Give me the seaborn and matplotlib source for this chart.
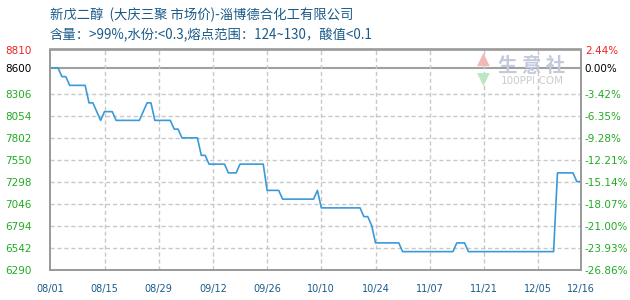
import matplotlib
matplotlib.use("Agg")
import matplotlib.pyplot as plt
import seaborn as sns
import pandas as pd
import numpy as np

# ---------------- data ----------------
start_date = "2023-08-01"
day_offsets = [0, 2, 3, 4, 5, 9, 10, 11, 13, 14, 16, 17, 23, 25, 26, 27,
               31, 32, 33, 34, 38, 39, 40, 41, 45, 46, 48, 49, 55, 56, 59, 60,
               68, 69, 70, 80, 81, 82, 83, 84, 90, 91, 104, 105, 107, 108,
               130, 131, 135, 136, 137]
prices = [8600, 8600, 8500, 8500, 8400, 8400, 8200, 8200, 8000, 8100, 8100, 8000, 8000, 8200, 8200, 8000,
          8000, 7900, 7900, 7800, 7800, 7600, 7600, 7500, 7500, 7400, 7400, 7500, 7500, 7200, 7200, 7100,
          7100, 7200, 7000, 7000, 6900, 6900, 6800, 6600, 6600, 6500, 6500, 6600, 6600, 6500,
          6500, 7400, 7400, 7300, 7300]

base_price = 8600
left_ticks = [8810, 8600, 8306, 8054, 7802, 7550, 7298, 7046, 6794, 6542, 6290]
right_tick_labels = ["2.44%", "0.00%", "-3.42%", "-6.35%", "-9.28%", "-12.21%",
                     "-15.14%", "-18.07%", "-21.00%", "-23.93%", "-26.86%"]
x_tick_offsets = [0, 14, 28, 42, 56, 70, 84, 98, 112, 126, 137]
x_tick_labels = ["08/01", "08/15", "08/29", "09/12", "09/26", "10/10",
                 "10/24", "11/07", "11/21", "12/05", "12/16"]

title_line1 = "新戊二醇  (大庆三聚 市场价)-淄博德合化工有限公司"
title_line2 = "含量：>99%,水份:<0.3,熔点范围：124~130，酸值<0.1"

# ---------------- build ----------------
t0 = pd.Timestamp(start_date)
df = pd.DataFrame({"date": [t0 + pd.Timedelta(days=d) for d in day_offsets],
                   "price": prices})
xticks = [t0 + pd.Timedelta(days=d) for d in x_tick_offsets]

sns.set_theme(style="white")
plt.rcParams['font.family'] = ['DejaVu Sans', 'Noto Sans CJK SC']

fig = plt.figure(figsize=(6.3, 3.0), dpi=100)
ax = fig.add_axes([50.3 / 630, 1 - 270 / 300, (580.7 - 50.3) / 630, (270 - 49.5) / 300])

grid_col = "#c8c8c8"
spine_col = "#999999"

# grid
for v in left_ticks:
    if v == base_price:
        ax.axhline(v, color="#a0a0a0", lw=1.5, zorder=1)
    elif v != left_ticks[0] and v != left_ticks[-1]:
        ax.axhline(v, color=grid_col, lw=1, ls=(0, (3, 2)), zorder=1)
for t in xticks[1:-1]:
    ax.axvline(t, color=grid_col, lw=1, ls=(0, (3, 2)), zorder=1)

sns.lineplot(data=df, x="date", y="price", ax=ax, color="#3a9ad9", lw=1.2, zorder=3)

ax.set_xlim(xticks[0], xticks[-1])
ax.set_ylim(left_ticks[-1], left_ticks[0])
ax.set_xlabel("")
ax.set_ylabel("")

ax.set_xticks(xticks)
ax.set_xticklabels(x_tick_labels, fontsize=7, color="#1a5a8a")
ax.set_yticks(left_ticks)
ax.set_yticklabels([str(v) for v in left_ticks], fontsize=7.5, ha="left")
ax.tick_params(axis="y", pad=32.5, length=0)
ax.tick_params(axis="x", pad=10, length=0)

def col_for(i):
    return "#ee2222" if i == 0 else ("#000000" if i == 1 else "#22aa22")

for i, lab in enumerate(ax.get_yticklabels()):
    lab.set_color(col_for(i))

ax2 = ax.twinx()
ax2.set_ylim(ax.get_ylim())
ax2.set_yticks(left_ticks)
ax2.set_yticklabels(right_tick_labels, fontsize=7.5)
ax2.tick_params(axis="y", pad=3, length=0)
for i, lab in enumerate(ax2.get_yticklabels()):
    lab.set_color(col_for(i))

for a in (ax, ax2):
    for s in a.spines.values():
        s.set_color(spine_col)
        s.set_linewidth(1.2)
    a.grid(False)

# titles
title_kw = dict(color="#1a5a8a", fontsize=9.6, family=['Noto Sans CJK SC', 'DejaVu Sans'],
                va="center", ha="left")
fig.text(50 / 630, 1 - 15 / 300, title_line1, **title_kw)
fig.text(50 / 630, 1 - 35 / 300, title_line2, **title_kw)

# watermark
fig.text(483 / 630, 1 - 60 / 300, "▲", color="#f2b8b4", fontsize=12, ha="center", va="center",
         family=['DejaVu Sans'])
fig.text(483 / 630, 1 - 80 / 300, "▼", color="#bde6c2", fontsize=12, ha="center", va="center",
         family=['DejaVu Sans'])
fig.text(532 / 630, 1 - 66 / 300, "生 意 社", color="#c4c9dc", fontsize=14, ha="center", va="center",
         family=['Noto Sans CJK SC'], fontweight="bold")
fig.text(532 / 630, 1 - 81 / 300, "100PPI.COM", color="#cccccc", fontsize=7.5, ha="center", va="center")

fig.savefig("out.png", dpi=100)
